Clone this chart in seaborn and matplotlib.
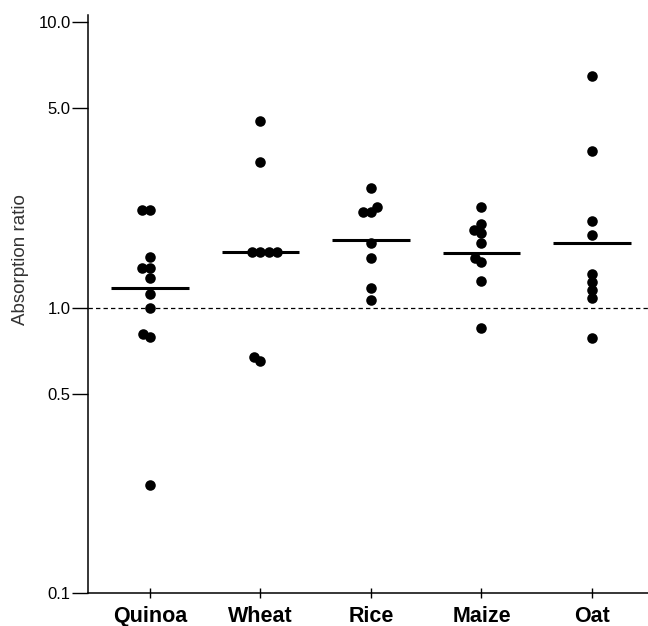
import seaborn as sns
import matplotlib.pyplot as plt
import numpy as np
import pandas as pd
from matplotlib.collections import PathCollection
from matplotlib.ticker import NullLocator, FixedLocator, FixedFormatter

# values (log scale)
grains = ['Quinoa', 'Wheat', 'Rice', 'Maize', 'Oat']

quinoa = [2.2, 2.2, 1.5, 1.38, 1.38, 1.27, 1.12, 1.0, 0.81, 0.79, 0.24]
wheat = [4.5, 3.25, 1.57, 1.57, 1.57, 1.57, 0.67, 0.65]
rice = [2.62, 2.25, 2.17, 2.17, 1.68, 1.49, 1.17, 1.06]
maize = [2.25, 1.97, 1.87, 1.82, 1.68, 1.49, 1.44, 1.24, 0.85]
oat = [6.5, 3.55, 2.01, 1.8, 1.31, 1.23, 1.15, 1.08, 0.785]

# horizontal bars drawn for each group
centre_lines = [1.167, 1.565, 1.73, 1.556, 1.685]

y_ticks = [0.1, 0.5, 1.0, 5.0, 10.0]
y_tick_labels = ['0.1', '0.5', '1.0', '5.0', '10.0']

groups = [quinoa, wheat, rice, maize, oat]
df = pd.DataFrame({
    'grain': np.repeat(grains, [len(g) for g in groups]),
    'ratio': np.concatenate(groups),
})

sns.set_style('ticks')
plt.rcParams['font.family'] = ['Liberation Sans', 'DejaVu Sans']

fig = plt.figure(figsize=(6.48, 6.26), dpi=100)
ax = fig.add_axes([0.1358, 0.0527, 0.8642, 0.9233])

# lay the swarm out with small markers so close values stack
# in a column (as in the original), then enlarge the dots
sns.swarmplot(data=df, x='grain', y='ratio', order=grains, color='black',
              size=5.5, log_scale=True, ax=ax, zorder=3)

ax.set_xlim(-0.561, 4.507)
ax.set_ylim(0.1, 10.6)
ax.yaxis.set_major_locator(FixedLocator(y_ticks))
ax.yaxis.set_major_formatter(FixedFormatter(y_tick_labels))
ax.yaxis.set_minor_locator(NullLocator())

fig.canvas.draw()
for coll in ax.collections:
    if isinstance(coll, PathCollection):
        coll.__dict__.pop('draw', None)
        coll.set_sizes([7.6 ** 2])

# group lines
pos = np.arange(len(grains))
ax.hlines(centre_lines, pos - 0.35, pos + 0.35, color='black', lw=2.2, zorder=2)

# reference line at ratio = 1
ax.axhline(1.0, color='black', lw=0.9, ls=(0, (3.5, 2.5)), zorder=1)

sns.despine(ax=ax)
for side in ['left', 'bottom']:
    ax.spines[side].set_linewidth(1.1)
    ax.spines[side].set_color('black')

ax.tick_params(axis='y', direction='out', length=11.5, width=1.0, pad=1,
               labelsize=12, colors='black')
ax.tick_params(axis='x', direction='inout', length=6.5, width=1.0, pad=6,
               labelsize=15.5, colors='black')
for lab in ax.get_xticklabels():
    lab.set_fontweight('bold')

ax.set_xlabel('')
ax.set_ylabel('Absorption ratio', fontsize=13.5, color='#333333')
ax.yaxis.label.set_horizontalalignment('left')
ax.yaxis.set_label_coords(-0.105, 0.4637)

fig.savefig('out.png', dpi=100, facecolor='white')
